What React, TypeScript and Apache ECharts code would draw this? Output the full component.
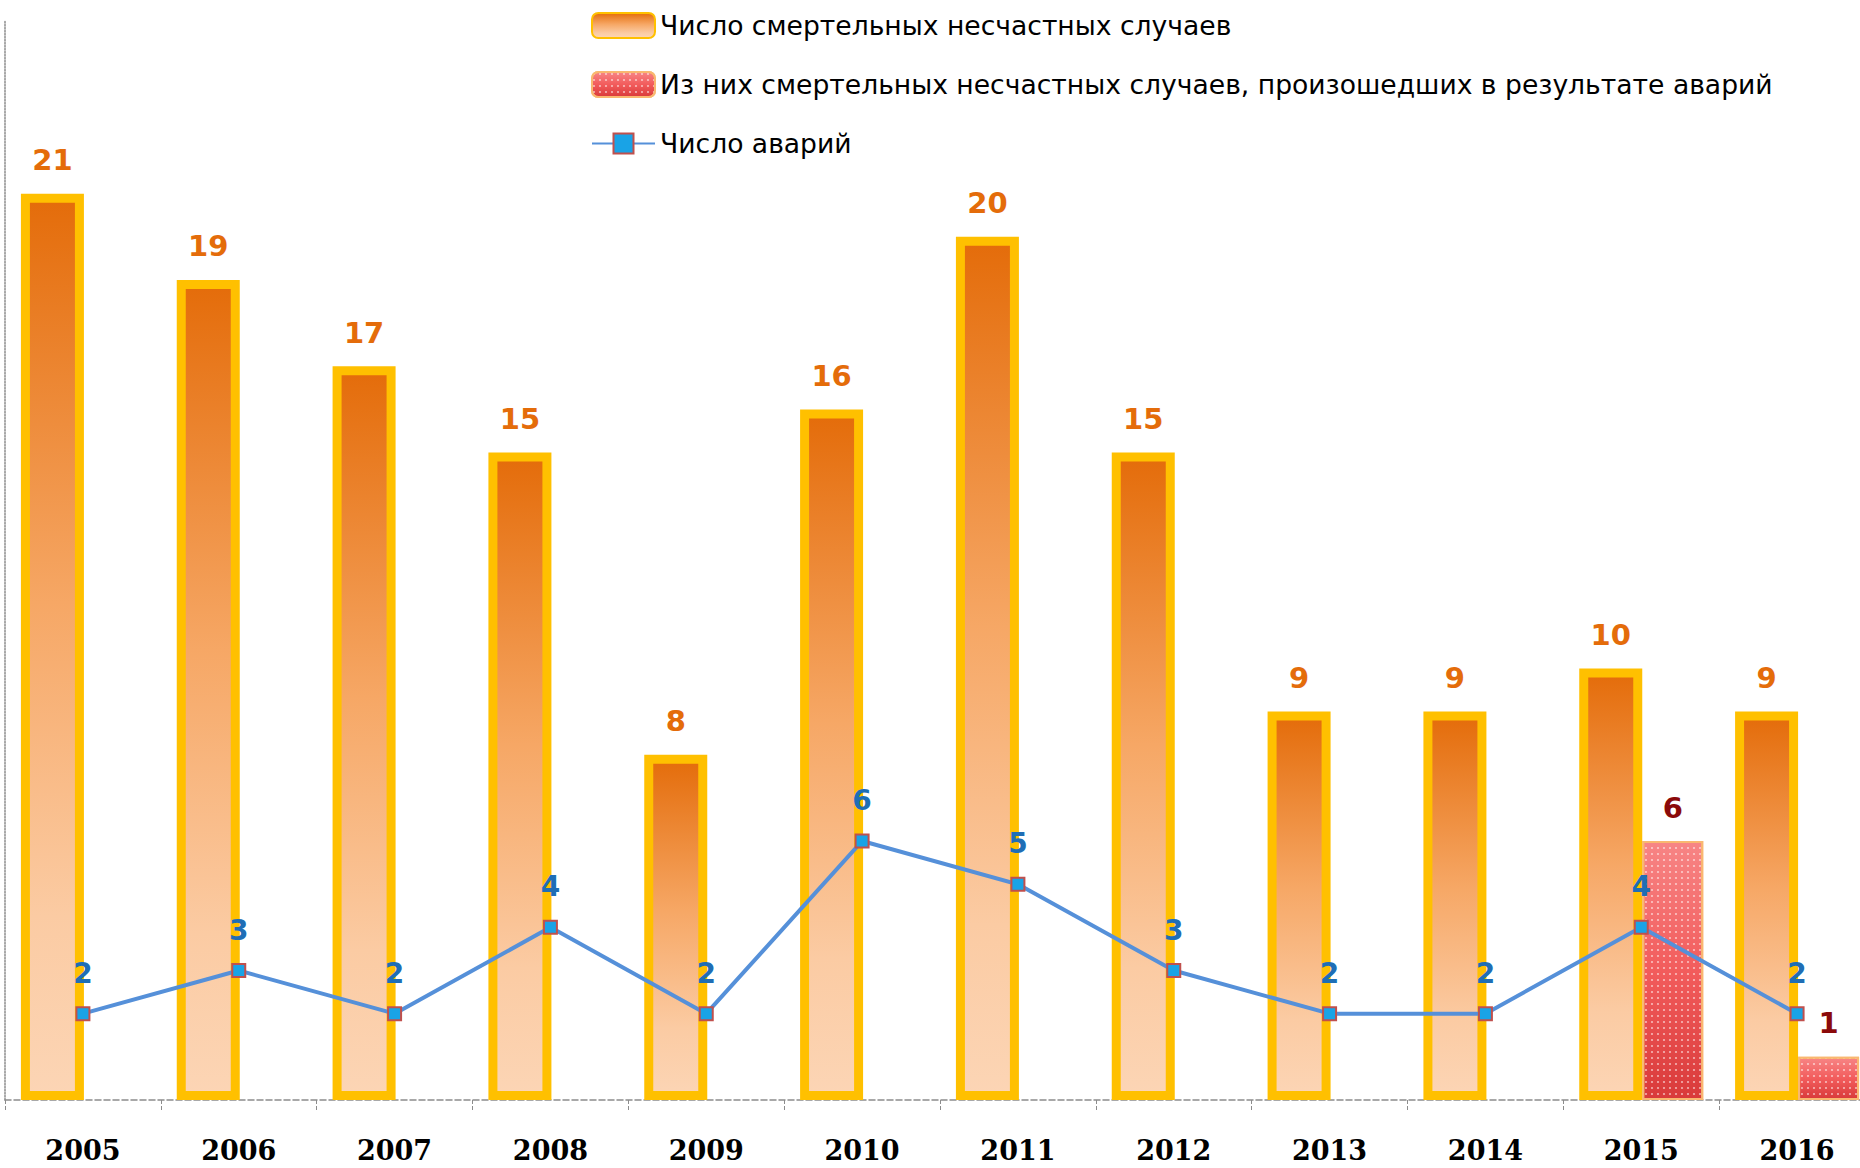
import React, { useEffect, useRef } from "react";
import * as echarts from "echarts";

const years = ["2005", "2006", "2007", "2008", "2009", "2010", "2011", "2012", "2013", "2014", "2015", "2016"];
const fatalTotal = [21, 19, 17, 15, 8, 16, 20, 15, 9, 9, 10, 9];
const fatalFromAccidents = [null, null, null, null, null, null, null, null, null, null, 6, 1];
const accidents = [2, 3, 2, 4, 2, 6, 5, 3, 2, 2, 4, 2];
const seriesNames = [
  "Число смертельных несчастных случаев",
  "Из них смертельных несчастных случаев, произошедших в результате аварий",
  "Число аварий",
];

export default function App() {
  const ref = useRef<HTMLDivElement>(null);
  useEffect(() => {
    if (!ref.current) return;
    const chart = echarts.init(ref.current, null, { renderer: "svg" });
    const orangeGrad = new echarts.graphic.LinearGradient(0, 0, 0, 1, [
      { offset: 0, color: "#E46C0A" },
      { offset: 0.45, color: "#F6A765" },
      { offset: 0.8, color: "#FBCBA3" },
      { offset: 1, color: "#FCD5B5" },
    ]);
    const redGrad = new echarts.graphic.LinearGradient(0, 0, 0, 1, [
      { offset: 0, color: "#F78585" },
      { offset: 0.5, color: "#F25C5C" },
      { offset: 1, color: "#D93A3A" },
    ]);
    chart.setOption({
      animation: false,
      backgroundColor: "#ffffff",
      grid: { left: 5, right: 5, top: 21, bottom: 68, containLabel: false },
      legend: {
        orient: "vertical",
        left: 586,
        top: 7,
        itemWidth: 63,
        itemHeight: 25,
        itemGap: 32,
        textStyle: { fontFamily: "DejaVu Sans", fontSize: 26.6, lineHeight: 25, color: "#000" },
        data: seriesNames,
      },
      xAxis: {
        type: "category",
        data: years,
        axisLine: { show: true, lineStyle: { color: "#8C8C8C", type: "dashed", width: 1.5 } },
        axisTick: { show: true, length: 12, lineStyle: { color: "#8C8C8C", type: "dashed" } },
        axisLabel: {
          margin: 37,
          fontFamily: "DejaVu Serif",
          fontWeight: "bold",
          fontSize: 27,
          color: "#000",
        },
      },
      yAxis: {
        type: "value",
        min: 0,
        max: 25,
        axisLine: { show: true, lineStyle: { color: "#8C8C8C", type: "dotted", width: 1.5 } },
        axisTick: { show: false },
        axisLabel: { show: false },
        splitLine: { show: false },
      },
      series: [
        {
          name: seriesNames[0],
          type: "bar",
          data: fatalTotal,
          barWidth: 63,
          barGap: "0%",
          itemStyle: { color: orangeGrad, borderColor: "#FFC000", borderWidth: 9 },
          label: {
            show: true,
            position: "top",
            distance: 19,
            fontFamily: "DejaVu Sans",
            fontWeight: "bold",
            fontSize: 29,
            color: "#E46C0A",
          },
          z: 2,
        },
        {
          name: seriesNames[1],
          type: "bar",
          data: fatalFromAccidents,
          barWidth: 61,
          barGap: "0%",
          itemStyle: {
            color: redGrad,
            borderColor: "#F9B870",
            borderWidth: 2,
            decal: {
              symbol: "circle",
              symbolSize: 0.55,
              color: "rgba(255,255,255,0.55)",
              dashArrayX: [[4, 2]],
              dashArrayY: [4, 2],
            },
          },
          label: {
            show: true,
            position: "top",
            distance: 19,
            fontFamily: "DejaVu Sans",
            fontWeight: "bold",
            fontSize: 29,
            color: "#8B0A0A",
          },
          z: 2,
        },
        {
          name: seriesNames[2],
          type: "line",
          data: accidents,
          symbol: "rect",
          symbolSize: 13,
          lineStyle: { color: "#5590D9", width: 4 },
          itemStyle: { color: "#19A3E6", borderColor: "#C0504D", borderWidth: 2 },
          label: {
            show: true,
            position: "top",
            distance: 19,
            fontFamily: "DejaVu Sans",
            fontWeight: "bold",
            fontSize: 28,
            color: "#1F6EB5",
          },
          z: 5,
        },
      ],
    });
    return () => chart.dispose();
  }, []);
  return (
    <div style={{ position: "fixed", left: 0, top: 0, width: 1860, height: 1168, overflow: "hidden", background: "#fff" }}>
      <div ref={ref} style={{ position: "absolute", left: 0, top: 0, width: 1880, height: 1168 }} />
    </div>
  );
}
